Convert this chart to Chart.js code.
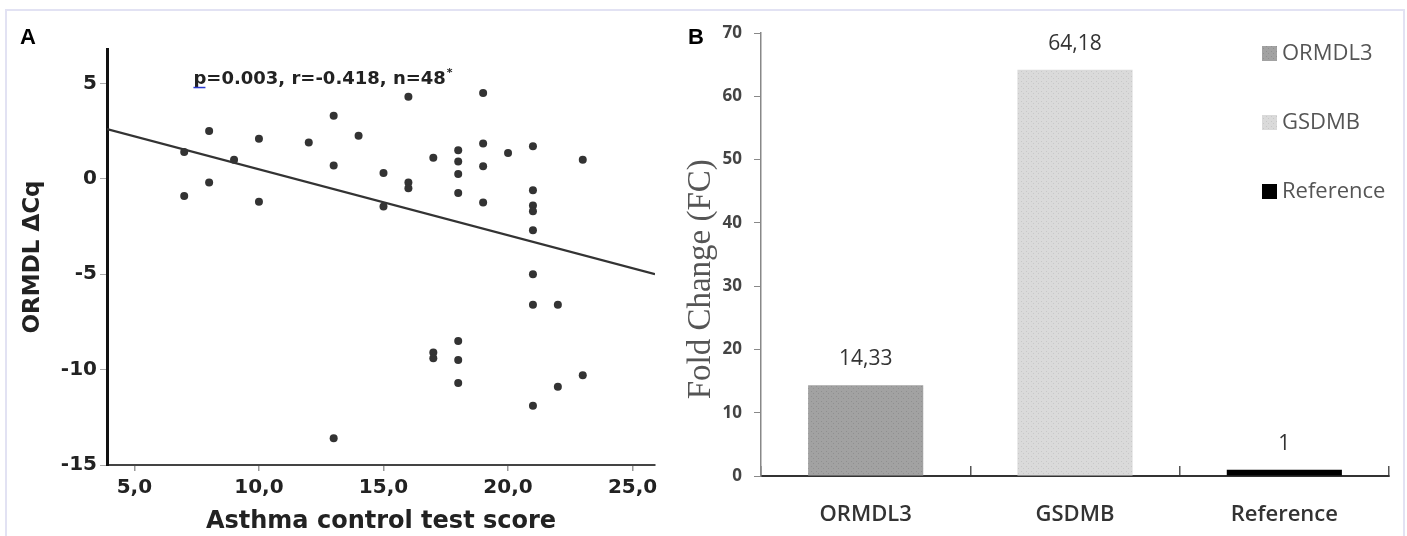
<!DOCTYPE html>
<html>
<head>
<meta charset="utf-8">
<script src="https://cdn.jsdelivr.net/npm/chart.js@4.4.1/dist/chart.umd.min.js"></script>
<style>
  html, body { margin: 0; padding: 0; background: #fff; overflow: hidden; }
  #frame { position: absolute; left: 5px; top: 9px; width: 1396px; height: 600px; border: 2px solid #e2e2f3; border-bottom: none; }
  .panel { position: absolute; font: bold 22px "Liberation Sans", Arial, sans-serif; color: #000; }
  #wrapA { position: absolute; left: 0; top: 0; width: 680px; height: 536px; }
  #wrapB { position: absolute; left: 680px; top: 0; width: 712px; height: 536px; }
</style>
</head>
<body>
<div id="frame"></div>
<div id="wrapA"><canvas id="scatterChart"></canvas></div>
<div id="wrapB"><canvas id="barChart"></canvas></div>
<div class="panel" style="left:20px;top:24px">A</div>
<div class="panel" style="left:688px;top:24px">B</div>
<script>
// panel A: ACT score vs ORMDL delta Cq
const actScores = [7, 7, 8, 8, 9, 10, 10, 12, 13, 13, 13, 14, 15, 15, 16, 16, 16, 17, 17, 17,
  18, 18, 18, 18, 18, 18, 18, 19, 19, 19, 19, 20, 21, 21, 21, 21, 21, 21, 21, 21, 22, 22, 23, 23];
const ormdlDeltaCq = [1.4, -0.9, 2.5, -0.2, 1.0, 2.1, -1.2, 1.9, 3.3, 0.7, -13.6, 2.25, 0.3, -1.45,
  4.3, -0.2, -0.5, 1.1, -9.1, -9.4, 1.5, 0.9, 0.25, -0.75, -8.5, -9.5, -10.7, 4.5, 1.85, 0.65, -1.25,
  1.35, 1.7, -0.6, -1.4, -1.7, -2.7, -5.0, -6.6, -11.9, -6.6, -10.9, 1.0, -10.3];
const fitX = [3.9, 25.9];
const fitY = [2.6, -5.0];
const scoreTicks = [5, 10, 15, 20, 25];
const deltaTicks = [-15, -10, -5, 0, 5];
const noteText = 'p=0.003, r=-0.418, n=48';

// panel B: fold change per gene
const genes = ['ORMDL3', 'GSDMB', 'Reference'];
const foldChange = [14.33, 64.18, 1];
const fcTicks = [0, 10, 20, 30, 40, 50, 60, 70];

function stipple(base, dot) {
    const c = document.createElement('canvas');
    c.width = 5; c.height = 5;
    const g = c.getContext('2d');
    g.fillStyle = base;
    g.fillRect(0, 0, 5, 5);
    g.fillStyle = dot;
    g.fillRect(1, 1, 1, 1);
    g.fillRect(3, 3, 1, 1);
    return g.createPattern(c, 'repeat');
}

const barFills = [stipple('#a2a2a2', '#909090'), stipple('#dadada', '#c8c8c8'), '#000000'];

const statsNote = {
    id: 'statsNote',
    afterDatasetsDraw(chart) {
        const { ctx, scales } = chart;
        const px = scales.x.getPixelForValue(7.37);
        const py = scales.y.getPixelForValue(5.2);
        ctx.save();
        ctx.font = 'bold 18px "DejaVu Sans"';
        ctx.fillStyle = '#222';
        ctx.textAlign = 'left';
        ctx.textBaseline = 'middle';
        ctx.fillText(noteText, px, py);
        const w = ctx.measureText(noteText).width;
        ctx.font = 'bold 11px "DejaVu Sans"';
        ctx.fillText('*', px + w + 1, py - 6);
        ctx.strokeStyle = '#2a3ad0';
        ctx.lineWidth = 1.5;
        ctx.beginPath();
        ctx.moveTo(px, py + 8);
        ctx.lineTo(px + 12, py + 8);
        ctx.stroke();
        ctx.restore();
    }
};

const valueLabels = {
    id: 'valueLabels',
    afterDatasetsDraw(chart) {
        const { ctx } = chart;
        const meta = chart.getDatasetMeta(0);
        ctx.save();
        ctx.font = '21px "Open Sans"';
        ctx.fillStyle = '#333';
        ctx.textAlign = 'center';
        ctx.textBaseline = 'middle';
        meta.data.forEach((bar, i) => {
            ctx.fillText(String(foldChange[i]).replace('.', ','), bar.x, bar.y - 26);
        });
        ctx.restore();
    }
};

const sideLegend = {
    id: 'sideLegend',
    afterDraw(chart) {
        const { ctx } = chart;
        ctx.save();
        ctx.font = '22px "Open Sans"';
        ctx.textAlign = 'left';
        ctx.textBaseline = 'middle';
        genes.forEach((name, i) => {
            const cy = 54 + i * 69;
            ctx.fillStyle = barFills[i];
            ctx.fillRect(582, cy - 8, 15, 15);
            ctx.fillStyle = '#555';
            ctx.fillText(name, 602, cy);
        });
        ctx.restore();
    }
};

new Chart(document.getElementById('scatterChart'), {
    type: 'scatter',
    data: {
        datasets: [
            {
                data: actScores.map((x, i) => ({ x: x, y: ormdlDeltaCq[i] })),
                pointRadius: 4,
                pointBackgroundColor: '#333',
                pointBorderWidth: 0,
                order: 1
            },
            {
                type: 'line',
                data: fitX.map((x, i) => ({ x: x, y: fitY[i] })),
                borderColor: '#333',
                borderWidth: 2.2,
                pointRadius: 0,
                order: 2
            }
        ]
    },
    options: {
        responsive: true,
        maintainAspectRatio: false,
        animation: false,
        layout: { padding: { left: 15, top: 49, right: 25, bottom: 0 } },
        plugins: { legend: { display: false }, tooltip: { enabled: false } },
        scales: {
            x: {
                type: 'linear',
                min: 3.9,
                max: 25.9,
                afterBuildTicks: s => { s.ticks = scoreTicks.map(v => ({ value: v })); },
                afterFit: s => { s.height = 71; },
                ticks: {
                    callback: v => v.toFixed(1).replace('.', ','),
                    font: { family: 'DejaVu Sans', weight: 'bold', size: 20 },
                    color: '#222',
                    padding: 5,
                    maxRotation: 0
                },
                grid: { drawOnChartArea: false, tickLength: 6, color: '#999', lineWidth: 1.5 },
                border: { color: '#444', width: 2 },
                title: {
                    display: true,
                    text: 'Asthma control test score',
                    font: { family: 'DejaVu Sans', weight: 'bold', size: 24 },
                    color: '#222',
                    padding: { top: 0, bottom: 0 }
                }
            },
            y: {
                min: -15,
                max: 6.8,
                afterBuildTicks: s => { s.ticks = deltaTicks.map(v => ({ value: v })); },
                afterFit: s => { s.width = 92; },
                ticks: {
                    font: { family: 'DejaVu Sans', weight: 'bold', size: 20 },
                    color: '#222',
                    padding: 3
                },
                grid: { drawOnChartArea: false, tickLength: 7, color: '#aaa' },
                border: { color: '#111', width: 3 },
                title: {
                    display: true,
                    text: 'ORMDL ΔCq',
                    font: { family: 'DejaVu Sans', weight: 'bold', size: 23 },
                    color: '#222',
                    padding: { top: 4, bottom: 4 }
                }
            }
        }
    },
    plugins: [statsNote]
});

new Chart(document.getElementById('barChart'), {
    type: 'bar',
    data: {
        labels: genes,
        datasets: [{
            data: foldChange,
            backgroundColor: barFills,
            barPercentage: 0.55,
            categoryPercentage: 1
        }]
    },
    options: {
        responsive: true,
        maintainAspectRatio: false,
        animation: false,
        layout: { padding: { left: 0, top: 33, right: 3, bottom: 0 } },
        plugins: { legend: { display: false }, tooltip: { enabled: false } },
        scales: {
            x: {
                afterFit: s => { s.height = 60; },
                ticks: {
                    font: { family: 'Open Sans', weight: '600', size: 22 },
                    color: '#333',
                    padding: 36
                },
                grid: { offset: true, drawOnChartArea: false, tickLength: -10, color: '#555', lineWidth: 1.5 },
                border: { color: '#333', width: 2 }
            },
            y: {
                min: 0,
                max: 70,
                afterBuildTicks: s => { s.ticks = fcTicks.map(v => ({ value: v })); },
                afterFit: s => { s.width = 81; },
                ticks: {
                    font: { family: 'Open Sans', weight: 'bold', size: 17 },
                    color: '#444',
                    padding: 12
                },
                grid: { drawOnChartArea: false, tickLength: 7, color: '#888' },
                border: { color: '#888', width: 1.5 },
                title: {
                    display: true,
                    text: 'Fold Change (FC)      ',
                    font: { family: 'Liberation Serif', size: 33 },
                    color: '#555',
                    padding: { top: 2, bottom: 0 }
                }
            }
        }
    },
    plugins: [valueLabels, sideLegend]
});
</script>
</body>
</html>
